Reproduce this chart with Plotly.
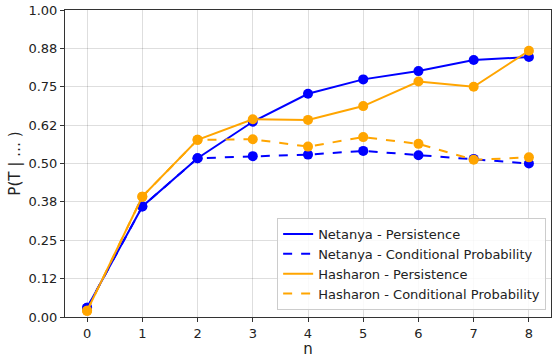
import plotly.graph_objects as go

n = [0, 1, 2, 3, 4, 5, 6, 7, 8]
netanya_persistence = [0.03, 0.36, 0.517, 0.636, 0.727, 0.774, 0.801, 0.837, 0.847]
netanya_conditional = [0.03, 0.36, 0.517, 0.524, 0.529, 0.541, 0.527, 0.515, 0.50]
hasharon_persistence = [0.02, 0.392, 0.577, 0.644, 0.642, 0.687, 0.767, 0.750, 0.867]
hasharon_conditional = [0.02, 0.392, 0.577, 0.579, 0.555, 0.586, 0.564, 0.512, 0.52]

y_tickvals = [0, 0.125, 0.25, 0.375, 0.5, 0.625, 0.75, 0.875, 1.0]
y_ticktext = ["0.00", "0.12", "0.25", "0.38", "0.50", "0.62", "0.75", "0.88", "1.00"]

BLUE = "#0000ff"
ORANGE = "#ffa500"

fig = go.Figure()
series = [
    ("Netanya - Persistence", netanya_persistence, BLUE, "solid"),
    ("Netanya - Conditional Probability", netanya_conditional, BLUE, "dash"),
    ("Hasharon - Persistence", hasharon_persistence, ORANGE, "solid"),
    ("Hasharon - Conditional Probability", hasharon_conditional, ORANGE, "dash"),
]
for name, vals, color, dash in series:
    fig.add_trace(go.Scatter(
        x=n, y=vals, name=name, mode="lines+markers", showlegend=False,
        line=dict(color=color, width=2, dash=dash),
        marker=dict(color=color, size=10),
    ))
# legend entries (line only, as in the reference)
for name, vals, color, dash in series:
    fig.add_trace(go.Scatter(
        x=[None], y=[None], name=name, mode="lines",
        line=dict(color=color, width=2, dash=dash),
    ))

axis_common = dict(
    showline=True, linecolor="#333333", linewidth=1, mirror=True,
    showgrid=True, gridcolor="rgba(0,0,0,0.13)", gridwidth=1,
    ticks="outside", ticklen=4, tickcolor="#333333",
    tickfont=dict(family="DejaVu Sans", size=13, color="#222222"),
    zeroline=False,
)

fig.update_layout(
    width=552, height=358,
    margin=dict(l=65, r=1, t=10, b=41),
    plot_bgcolor="white", paper_bgcolor="white",
    font=dict(family="DejaVu Sans", size=13, color="#222222"),
    xaxis=dict(range=[-0.4, 8.4], tickvals=n,
               title=dict(text="n", font=dict(size=15), standoff=3), **axis_common),
    yaxis=dict(range=[0, 1], tickvals=y_tickvals, ticktext=y_ticktext,
               title=dict(text="P(T | … )", font=dict(size=15), standoff=4), **axis_common),
    legend=dict(
        x=0.99, y=0.023, xanchor="right", yanchor="bottom",
        bgcolor="rgba(255,255,255,0.85)", bordercolor="#cccccc", borderwidth=1,
        font=dict(family="DejaVu Sans", size=13, color="#222222"),
        tracegroupgap=0, itemwidth=30,
    ),
    showlegend=True,
)

fig.write_html(
    "out.html",
    config={"displayModeBar": False},
    post_script="document.body.style.margin='0';document.body.style.overflow='hidden';",
)
